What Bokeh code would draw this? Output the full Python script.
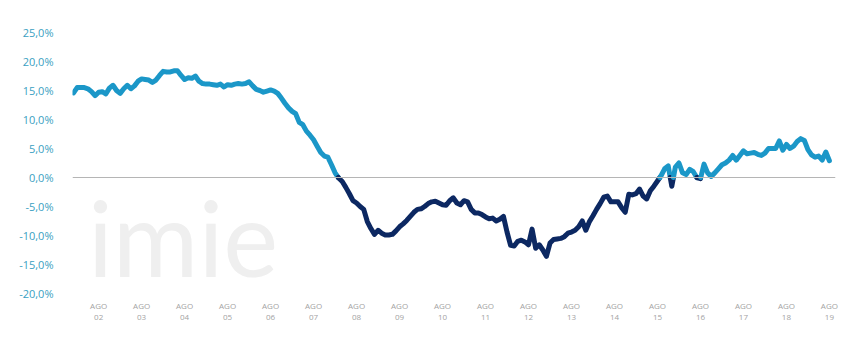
from bokeh.plotting import figure
from bokeh.models import Range1d, Span, FixedTicker, Label
from bokeh.embed import file_html
from bokeh.resources import INLINE

# Monthly year-on-year change (%), Jan 2002 .. Aug 2019
values = [
    14.6, 15.5, 15.5, 15.5, 15.3, 14.8, 14.1, 14.7, 14.8, 14.4, 15.4, 15.9,
    15.0, 14.5, 15.3, 15.9, 15.3, 15.8, 16.6, 17.0, 16.9, 16.8, 16.4, 16.8,
    17.6, 18.3, 18.2, 18.2, 18.4, 18.4, 17.6, 16.9, 17.2, 17.1, 17.5, 16.6,
    16.2, 16.1, 16.1, 16.0, 15.9, 16.1, 15.6, 16.0, 15.9, 16.1, 16.2, 16.1,
    16.2, 16.5, 15.8, 15.2, 15.0, 14.7, 14.9, 15.1, 14.9, 14.5, 13.7, 12.8,
    12.0, 11.4, 11.0, 9.5, 9.1, 8.0, 7.3, 6.5, 5.4, 4.3, 3.7, 3.5,
    2.2, 0.8, -0.1, -0.7, -1.7, -2.8, -4.0, -4.4, -5.0, -5.5, -7.6, -8.8,
    -9.8, -9.1, -9.6, -9.9, -9.9, -9.8, -9.2, -8.5, -8.0, -7.4, -6.7, -6.0,
    -5.5, -5.4, -5.0, -4.5, -4.2, -4.1, -4.4, -4.7, -4.8, -4.0, -3.5, -4.4,
    -4.7, -4.0, -4.2, -5.5, -6.1, -6.1, -6.4, -6.8, -7.1, -7.0, -7.5, -7.2,
    -6.7, -9.4, -11.7, -11.8, -11.0, -10.8, -11.1, -11.6, -8.9, -12.2, -11.6, -12.5,
    -13.6, -11.3, -10.7, -10.6, -10.5, -10.2, -9.6, -9.4, -9.1, -8.5, -7.5, -9.1,
    -7.6, -6.6, -5.5, -4.5, -3.4, -3.2, -4.2, -4.2, -4.2, -5.2, -6.0, -2.9,
    -3.0, -2.8, -2.0, -3.2, -3.7, -2.3, -1.5, -0.6, 0.3, 1.5, 2.0, -1.5,
    1.8, 2.5, 0.8, 0.5, 1.4, 1.0, 0.0, -0.2, 2.3, 0.8, 0.2, 0.8,
    1.5, 2.2, 2.5, 3.0, 3.8, 3.0, 3.8, 4.6, 4.1, 4.2, 4.3, 4.0,
    3.8, 4.2, 5.0, 5.0, 5.0, 6.3, 4.7, 5.7, 5.0, 5.4, 6.2, 6.7,
    6.4, 4.8, 3.9, 3.5, 3.7, 3.0, 4.4, 2.9,
]
months = list(range(len(values)))  # 0 = Jan 2002

year_labels = ["02", "03", "04", "05", "06", "07", "08", "09", "10",
               "11", "12", "13", "14", "15", "16", "17", "18", "19"]
tick_month = [7 + 12 * i for i in range(len(year_labels))]  # August each year

y_ticks = [-20, -15, -10, -5, 0, 5, 10, 15, 20, 25]
y_labels = ["-20,0%", "-15,0%", "-10,0%", "-5,0%", "0,0%", "5,0%",
            "10,0%", "15,0%", "20,0%", "25,0%"]

POS = "#1b97c8"
NEG = "#0c2862"

# split the series into runs of equal sign (crossing points interpolated)
runs_x, runs_y, runs_c = [], [], []
cx, cy = [months[0]], [values[0]]
cur = values[0] >= 0
for i in range(1, len(values)):
    x0, y0, x1, y1 = months[i - 1], values[i - 1], months[i], values[i]
    s = y1 >= 0
    if s != cur:
        xc = x0 + (0 - y0) / (y1 - y0) * (x1 - x0)
        cx.append(xc); cy.append(0.0)
        runs_x.append(cx); runs_y.append(cy); runs_c.append(POS if cur else NEG)
        cx, cy = [xc], [0.0]
        cur = s
    cx.append(x1); cy.append(y1)
runs_x.append(cx); runs_y.append(cy); runs_c.append(POS if cur else NEG)

p = figure(width=855, height=354, frame_width=763, frame_height=261,
           min_border_left=72, min_border_right=20, min_border_top=32,
           min_border_bottom=61, output_backend="svg", toolbar_location=None,
           x_range=Range1d(-0.3, 212.7), y_range=Range1d(-20, 25))

p.outline_line_color = None
p.grid.visible = False
p.background_fill_color = "white"
p.border_fill_color = "white"

# watermark
p.add_layout(Label(x=4.0, y=-21.0, text="imie", text_font="Lato",
                   text_font_size="104px", text_color="#efefef",
                   text_font_style="normal"))

p.add_layout(Span(location=0, dimension="width", line_color="#b5b5b5",
                  line_width=1))

p.multi_line(runs_x, runs_y, line_color=runs_c, line_width=5,
             line_join="round", line_cap="round")

xa = p.xaxis[0]
xa.ticker = FixedTicker(ticks=tick_month)
xa.major_label_overrides = {m: "AGO\n" + lab for m, lab in zip(tick_month, year_labels)}
xa.axis_line_color = None
xa.major_tick_line_color = None
xa.minor_tick_line_color = None
xa.major_label_text_color = "#a3a3a3"
xa.major_label_text_font = "Open Sans"
xa.major_label_text_font_size = "8px"
xa.major_label_text_line_height = 1.0
xa.major_label_standoff = 0

ya = p.yaxis[0]
ya.ticker = FixedTicker(ticks=y_ticks)
ya.major_label_overrides = {t: l for t, l in zip(y_ticks, y_labels)}
ya.axis_line_color = None
ya.major_tick_line_color = None
ya.minor_tick_line_color = None
ya.major_label_text_color = "#3a9fc2"
ya.major_label_text_font = "Open Sans"
ya.major_label_text_font_size = "11px"
ya.major_label_standoff = 13

open("out.html", "w").write(file_html(p, INLINE))
